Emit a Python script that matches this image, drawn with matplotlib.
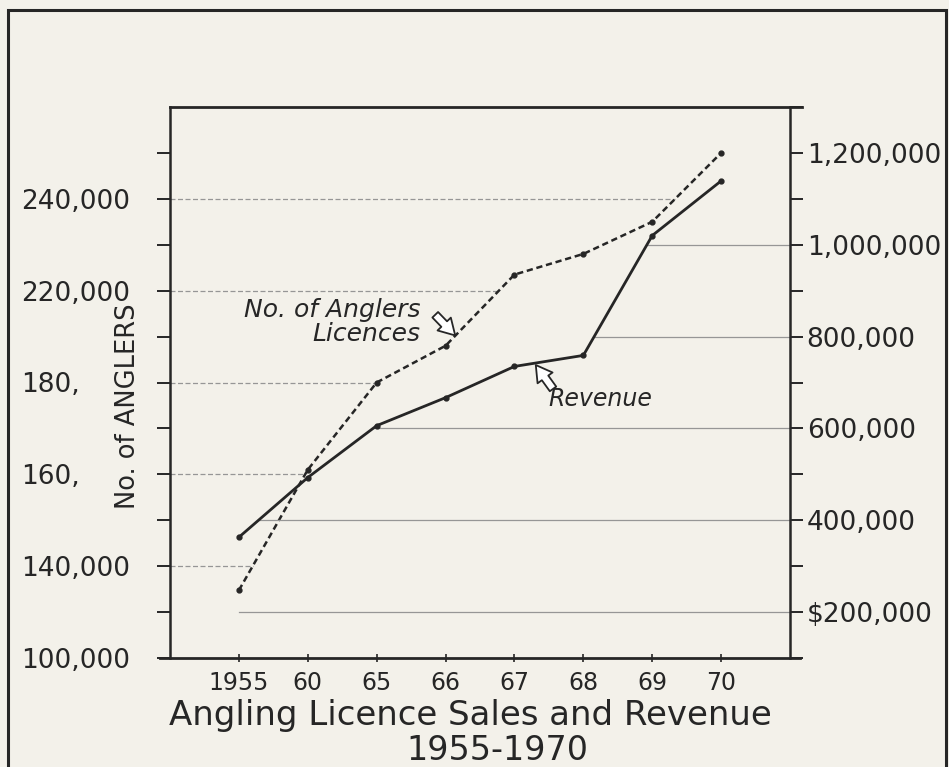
import numpy as np
import matplotlib
matplotlib.use("Agg")
import matplotlib.pyplot as plt
from matplotlib.patches import Rectangle

# data
years = ["1955", "60", "65", "66", "67", "68", "69", "70"]
anglers = [129500, 161000, 180000, 196000, 223500, 228000, 235000, 250000]
revenue = [363000, 493000, 606000, 667000, 735000, 759000, 1020000, 1139000]

# left axis is not linear: labels sit at even steps
left_vals = [100000, 140000, 160000, 180000, 220000, 240000, 260000]
left_labels = ["100,000", "140,000", "160,", "180,", "220,000", "240,000"]
right_ticks = [200000, 400000, 600000, 800000, 1000000, 1200000]
right_labels = ["$200,000", "400,000", "600,000", "800,000", "1,000,000", "1,200,000"]
left_guides = [140000, 160000, 180000, 220000, 240000]
right_guides = [200000, 400000, 600000, 800000, 1000000]

ink = "#262626"
paper = "#f3f1ea"
plt.rcParams["font.family"] = "DejaVu Sans"

pos = np.arange(len(left_vals), dtype=float)

def fwd(v):
    return np.interp(v, left_vals, pos)

def inv(p):
    return np.interp(p, pos, left_vals)

fig = plt.figure(figsize=(9.49, 7.67), dpi=100, facecolor=paper)
ax = fig.add_axes([170 / 949, 1 - 658 / 767, 620 / 949, 551 / 767])
ax.set_facecolor("none")
ax2 = ax.twinx()

x = np.arange(len(years))

ax.set_yscale("function", functions=(fwd, inv))
ax.set_ylim(left_vals[0], left_vals[-1])
ax.set_xlim(-1, 8)
ax2.set_ylim(100000, 1300000)

# guide lines
for g in left_guides:
    xg = np.interp(fwd(g), fwd(anglers), x)
    ax.plot([-1, xg], [g, g], color="#969696", lw=0.9, ls=(0, (4, 2)))
for g in right_guides:
    if g > max(revenue):
        continue
    xg = np.interp(g, revenue, x)
    ax2.plot([xg, 8], [g, g], color="#969696", lw=0.9)

ax.plot(x, anglers, color=ink, lw=1.8, ls=(0, (2.5, 1.5)), marker="o", ms=3.5)
ax2.plot(x, revenue, color=ink, lw=2.0, marker="o", ms=3.5)

# ticks
ax.set_xticks(x)
ax.set_xticklabels(years, fontsize=17, color=ink)
ax.tick_params(axis="x", direction="inout", length=6, width=1.2, pad=6, color=ink)

ax.set_yticks(left_vals[:-1])
ax.set_yticklabels(left_labels, fontsize=19, color=ink)
ax.set_yticks(inv(np.arange(0.5, 6, 1.0)), minor=True)
ax.tick_params(axis="y", which="both", length=9.5, width=1.4, pad=98, color=ink)
for lbl in ax.get_yticklabels():
    lbl.set_horizontalalignment("left")

ax2.set_yticks(right_ticks)
ax2.set_yticklabels(right_labels, fontsize=19, color=ink)
ax2.set_yticks(np.arange(100000, 1300001, 100000), minor=True)
ax2.tick_params(axis="y", which="both", length=9, width=1.4, pad=3, color=ink)

for s in ["top", "bottom", "right"]:
    ax.spines[s].set_visible(False)
for s in ["top", "bottom", "left"]:
    ax2.spines[s].set_visible(False)
ax.spines["left"].set_color(ink)
ax.spines["left"].set_linewidth(1.8)
ax2.spines["right"].set_color(ink)
ax2.spines["right"].set_linewidth(1.8)
ax.plot([-0.016, 1.016], [0, 0], transform=ax.transAxes, color=ink, lw=2.0, clip_on=False)
ax.plot([0, 1.02], [1, 1], transform=ax.transAxes, color=ink, lw=2.0, clip_on=False)

# labels on the lines
arrow = dict(arrowstyle="simple,head_length=0.6,head_width=0.7,tail_width=0.3",
             fc="white", ec=ink, lw=1.3, mutation_scale=19, shrinkA=0, shrinkB=0)
ax.text(2.63, 206500, "No. of Anglers\nLicences", ha="right", va="center",
        fontsize=18, style="italic", color=ink, multialignment="right", linespacing=1.0)
ax.annotate("", xy=(3.14, 200500), xytext=(2.85, 209500), arrowprops=arrow)
ax2.text(4.49, 663000, "Revenue", ha="left", va="center", fontsize=17,
         style="italic", color=ink)
ax2.annotate("", xy=(4.31, 738000), xytext=(4.56, 686000), arrowprops=arrow)

fig.text(128 / 949, 1 - 406 / 767, "No. of ANGLERS", rotation=90, ha="center",
         va="center", fontsize=18.5, color=ink)
fig.text(470 / 949, 1 - 715 / 767, "Angling Licence Sales and Revenue", ha="center",
         va="center", fontsize=24.5, color=ink)
fig.text(497 / 949, 1 - 750 / 767, "1955-1970", ha="center", va="center",
         fontsize=24, color=ink)

fig.add_artist(Rectangle((8 / 949, -0.05), 938 / 949, 1.05 - 10 / 767,
                         transform=fig.transFigure, fill=False, ec=ink, lw=2.2))

fig.savefig("out.png", dpi=100, facecolor=paper)
